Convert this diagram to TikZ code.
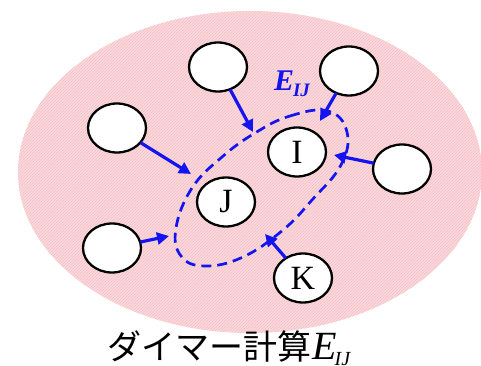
\documentclass[tikz,border=0pt]{standalone}
\usepackage{fontspec}
\setmainfont{Liberation Serif}
\newfontfamily\jpfont{Noto Sans CJK JP}
\usetikzlibrary{arrows.meta,patterns,shapes.geometric}
\definecolor{bgpink}{RGB}{251,218,221}
\definecolor{hatchpink}{RGB}{245,190,197}
\definecolor{arrblue}{RGB}{20,20,240}
\tikzset{
  mol/.style={draw=black, line width=2.3pt, fill=white, ellipse, minimum width=58pt, minimum height=49pt, inner sep=0pt,
    font=\fontsize{34}{34}\selectfont},
  arr/.style={draw=arrblue, line width=3.2pt, -{Triangle[length=12pt,width=12pt]}, shorten <=-1pt},
  dimer/.style={draw=arrblue, line width=2.7pt, dash pattern=on 10pt off 6pt}
}
\begin{document}
\begin{tikzpicture}[x=1pt,y=-1pt]
  \useasboundingbox (0,0) rectangle (481,366);
  % surrounding environment
  \fill[bgpink] (250,172) ellipse [x radius=232, y radius=161];
  \fill[pattern=north east lines, pattern color=hatchpink] (250,172) ellipse [x radius=232, y radius=161];

  % molecules
  \node[mol] (tc) at (218,67) {};
  \node[mol] (tr) at (349,71) {};
  \node[mol] (lf) at (117,128) {};
  \node[mol] (I)  at (297,152) {I};
  \node[mol] (rt) at (402,169) {};
  \node[mol] (J)  at (226,202) {J};
  \node[mol] (bl) at (112,248) {};
  \node[mol] (K)  at (303,278) {K};

  % dimer boundary
  \draw[dimer] plot[smooth cycle, tension=0.7] coordinates {
    (255,133) (290,116) (328,111) (347,132) (341,165) (312,200)
    (283,230) (243,257) (205,266) (181,256) (176,228) (192,188) (222,157)};

  % arrow heads on the boundary
  \coordinate (e1) at (253,132);
  \coordinate (e2) at (320,121);
  \coordinate (e3) at (191,174);
  \coordinate (e4) at (334,155);
  \coordinate (e5) at (169,236);
  \coordinate (e6) at (265,234);
  \draw[arr] (tc) -- (e1);
  \draw[arr] (tr) -- (e2);
  \draw[arr] (lf) -- (e3);
  \draw[arr] (rt) -- (e4);
  \draw[arr] (bl) -- (e5);
  \draw[arr] (K) -- (e6);

  \node[text=arrblue, font=\fontsize{30}{30}\selectfont\bfseries\itshape] (eij) at (292,84)
    {E\kern-1pt\raisebox{-6pt}{\fontsize{19}{19}\selectfont IJ}};

  \node[anchor=base west, inner sep=0pt] (cap) at (107,359)
    {\jpfont\fontsize{34}{34}\selectfont ダイマー計算\kern1pt{\rmfamily\itshape\fontsize{40}{40}\selectfont E\kern-2pt\raisebox{-6pt}{\fontsize{20}{20}\selectfont IJ}}};
\end{tikzpicture}
\end{document}
